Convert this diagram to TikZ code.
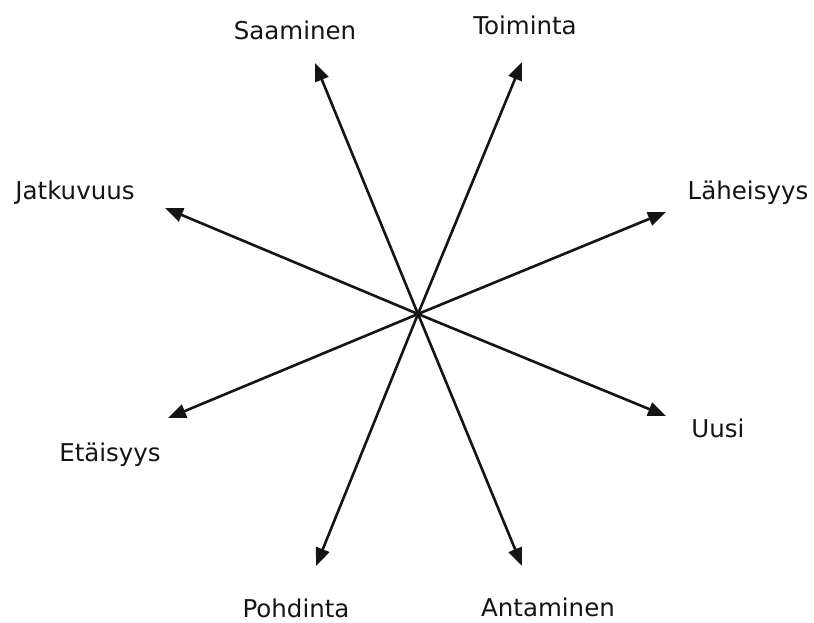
\documentclass[tikz,border=0pt]{standalone}
\usepackage{fontspec}
\setmainfont{DejaVu Sans}
\usepackage{tikz}
\usetikzlibrary{arrows.meta, positioning, calc}
\definecolor{starInk}{RGB}{20, 20, 20}
\tikzset{
  rayarrow/.style={
    -{Triangle[length=18pt,width=14pt]},
    line width=2.6pt,
    color=starInk
  },
  raylabel/.style={
    font=\fontsize{24.5}{27}\selectfont,
    color=starInk,
    inner sep=0pt
  }
}
\begin{document}
\begin{tikzpicture}[x=1pt, y=-1pt]

  % ── Canvas ────────────────────────────────────────────────────────────────
  \useasboundingbox (0,0) rectangle (814,623);

  % ── Centre and arrow tips ─────────────────────────────────────────────────
  \coordinate (hub) at (418,314);
  \coordinate (tipSaa) at (315,63);
  \coordinate (tipToi) at (522,62);
  \coordinate (tipLah) at (666,212);
  \coordinate (tipUus) at (666,416);
  \coordinate (tipAnt) at (522,566);
  \coordinate (tipPoh) at (316,566);
  \coordinate (tipEta) at (168,418);
  \coordinate (tipJat) at (165,208);

  % ── Labels ────────────────────────────────────────────────────────────────
  \node[raylabel] (saaminen)  at (295,30)  {Saaminen};
  \node[raylabel] (toiminta)  at (525,25)  {Toiminta};
  \node[raylabel] (laheisyys) at (748,193) {Läheisyys};
  \node[raylabel] (uusi)      at (718,428) {Uusi};
  \node[raylabel] (antaminen) at (548,607) {Antaminen};
  \node[raylabel] (pohdinta)  at (296,608) {Pohdinta};
  \node[raylabel] (etaisyys)  at (110,455) {Etäisyys};
  \node[raylabel] (jatkuvuus) at (75,193)  {Jatkuvuus};

  % ── Rays ──────────────────────────────────────────────────────────────────
  \foreach \t in {tipSaa,tipToi,tipLah,tipUus,tipAnt,tipPoh,tipEta,tipJat}{
    \draw[rayarrow] (hub) -- (\t);
  }

\end{tikzpicture}
\end{document}
